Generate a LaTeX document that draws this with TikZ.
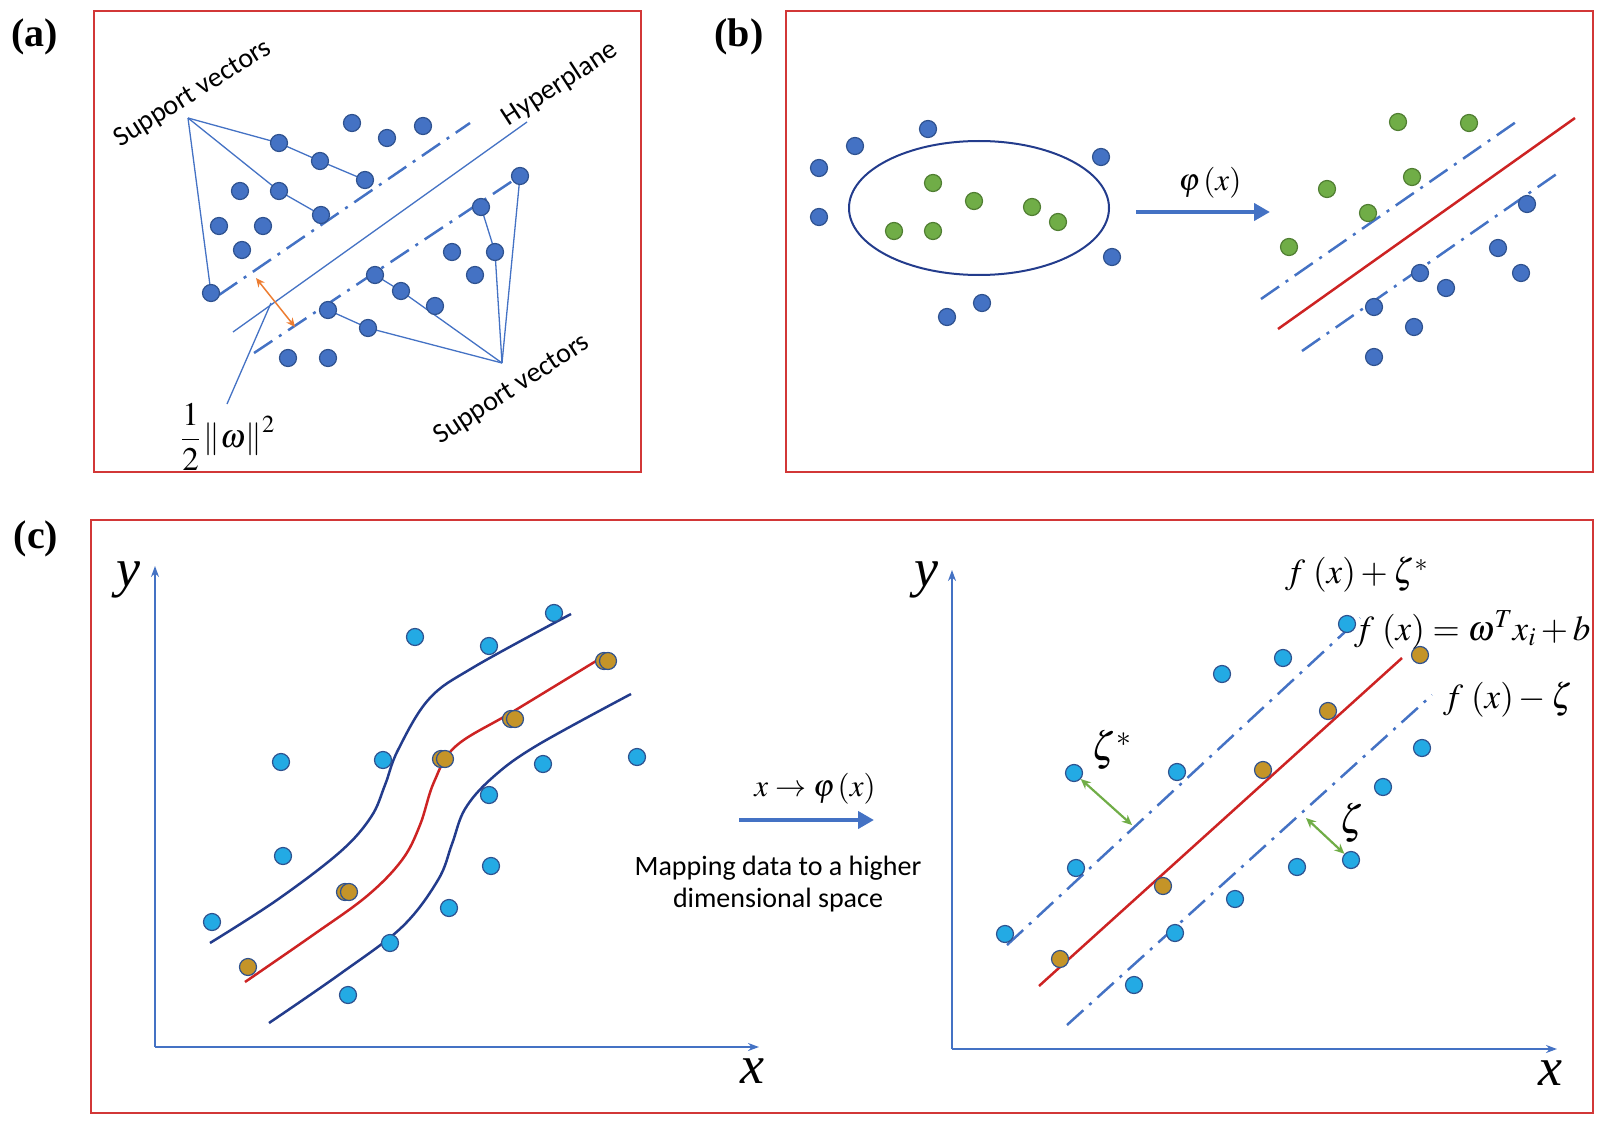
\documentclass[tikz,border=0pt]{standalone}
\usepackage{mathptmx}
\usepackage{fontspec}
\setmainfont{Liberation Serif}
\newfontfamily\calfont{Carlito}
\usetikzlibrary{arrows.meta,backgrounds}
\definecolor{boxred}{RGB}{210,55,55}
\definecolor{dotblue}{RGB}{68,114,196}
\definecolor{dotedge}{RGB}{47,82,143}
\definecolor{dotgreen}{RGB}{112,173,71}
\definecolor{greenedge}{RGB}{80,126,50}
\definecolor{dotcyan}{RGB}{35,170,228}
\definecolor{dotgold}{RGB}{196,148,40}
\definecolor{navy}{RGB}{35,60,140}
\definecolor{linered}{RGB}{205,35,35}
\definecolor{orangearr}{RGB}{237,125,49}
\definecolor{greenarr}{RGB}{112,173,71}
\definecolor{lineblue}{RGB}{68,114,196}
\newcommand{\bp}[1]{\left(\vphantom{f}#1\right)}
\tikzset{
  panel/.style={draw=boxred, line width=1.6pt},
  plabel/.style={font=\fontsize{40}{44}\selectfont\bfseries},
  dotbase/.style={circle, line width=1.2pt, minimum size=17pt, inner sep=0pt},
  bdot/.style={dotbase, draw=dotedge, fill=dotblue},
  gdot/.style={dotbase, draw=greenedge, fill=dotgreen},
  cdot/.style={dotbase, draw=dotedge, fill=dotcyan},
  odot/.style={dotbase, draw=dotedge, fill=dotgold},
  ddline/.style={draw=lineblue, line width=2.5pt, dash pattern=on 22pt off 8pt on 3pt off 8pt},
  thinline/.style={draw=lineblue, line width=1.3pt},
  redline/.style={draw=linered, line width=2.5pt},
  navycurve/.style={draw=navy, line width=2.5pt},
  axis/.style={draw=lineblue, line width=2pt, -{Stealth[length=11pt,width=8pt]}},
  bigarrow/.style={draw=lineblue, line width=4.5pt, -{Triangle[length=16pt,width=17pt]}},
  calib/.style={font=\calfont\fontsize{28}{32}\selectfont},
  mathlab/.style={font=\fontsize{35}{40}\selectfont, inner sep=0pt},
  axlab/.style={font=\fontsize{54}{58}\selectfont\itshape},
}
\begin{document}
\begin{tikzpicture}[x=1pt,y=-1pt]
\useasboundingbox (0,0) rectangle (1604,1126);
% ---------- panels ----------
\draw[panel] (94,11) rectangle (641,472);
\draw[panel] (786,11) rectangle (1593,472);
\draw[panel] (91,520) rectangle (1593,1113);
\node[plabel] (la) at (35,37) {(a)};
\node[plabel] (lb) at (739,37) {(b)};
\node[plabel] (lc) at (36,539) {(c)};

% ---------- (a) ----------
\node[bdot] (a1) at (352,123) {};
\node[bdot] (a2) at (387,138) {};
\node[bdot] (a3) at (423,126) {};
\node[bdot] (a4) at (279,143) {};
\node[bdot] (a5) at (320,161) {};
\node[bdot] (a6) at (365,180) {};
\node[bdot] (a7) at (240,191) {};
\node[bdot] (a8) at (279,191) {};
\node[bdot] (a9) at (321,215) {};
\node[bdot] (a10) at (219,226) {};
\node[bdot] (a11) at (263,226) {};
\node[bdot] (a12) at (242,250) {};
\node[bdot] (a13) at (211,293) {};
\node[bdot] (b1) at (520,176) {};
\node[bdot] (b2) at (481,207) {};
\node[bdot] (b3) at (495,252) {};
\node[bdot] (b4) at (452,252) {};
\node[bdot] (b5) at (475,275) {};
\node[bdot] (b6) at (375,275) {};
\node[bdot] (b7) at (401,291) {};
\node[bdot] (b8) at (435,306) {};
\node[bdot] (b9) at (328,310) {};
\node[bdot] (b10) at (368,328) {};
\node[bdot] (b11) at (288,358) {};
\node[bdot] (b12) at (328,358) {};
\coordinate (sva) at (188,118);
\coordinate (svb) at (502,363);
\coordinate (ua1) at (219,295);
\coordinate (ua2) at (470,123);
\coordinate (la1) at (254,353);
\coordinate (la2) at (520,176);
\coordinate (h1) at (233,332);
\coordinate (h2) at (527,122);
\coordinate (m1) at (256,278);
\coordinate (m2) at (295,327);
\coordinate (w1) at (271,303);
\begin{scope}[on background layer]
  \draw[thinline] (sva) -- (a4.center) -- (a5.center) -- (a6.center);
  \draw[thinline] (sva) -- (a8.center) -- (a9.center);
  \draw[thinline] (sva) -- (a13.center);
  \draw[thinline] (svb) -- (b1.center);
  \draw[thinline] (svb) -- (b3.center) -- (b2.center);
  \draw[thinline] (svb) -- (b7.center) -- (b6.center);
  \draw[thinline] (svb) -- (b10.center) -- (b9.center);
  \draw[ddline] (ua1) -- (ua2);
  \draw[ddline] (la1) -- (la2);
  \draw[thinline] (h1) -- (h2);
\end{scope}
\draw[draw=orangearr, line width=1.5pt, {Stealth[length=9pt,width=8pt]}-{Stealth[length=9pt,width=8pt]}] (m1) -- (m2);
\node[calib, rotate=32] (sv1) at (193,94) {Support vectors};
\node[calib, rotate=33] (hyp) at (560,84) {Hyperplane};
\node[calib, rotate=33] (sv2) at (512,390) {Support vectors};
\node[font=\fontsize{33}{37}\selectfont, inner sep=0pt] (wlab) at (228,437) {$\displaystyle\frac{1}{2}\left\|\omega\right\|^{2}$};
\coordinate (w0) at (227,404);
\draw[thinline] (w0) -- (w1);

% ---------- (b) ----------
\draw[draw=navy, line width=2pt] (979,208) ellipse [x radius=130, y radius=67];
\node[bdot] (c1) at (819,168) {};
\node[bdot] (c2) at (855,146) {};
\node[bdot] (c3) at (928,129) {};
\node[bdot] (c4) at (819,217) {};
\node[bdot] (c5) at (1101,157) {};
\node[bdot] (c6) at (1112,257) {};
\node[bdot] (c7) at (982,303) {};
\node[bdot] (c8) at (947,317) {};
\node[gdot] (g1) at (933,183) {};
\node[gdot] (g2) at (974,201) {};
\node[gdot] (g3) at (1032,207) {};
\node[gdot] (g4) at (1058,222) {};
\node[gdot] (g5) at (894,231) {};
\node[gdot] (g6) at (933,231) {};
\coordinate (ba1) at (1136,212);
\coordinate (ba2) at (1270,212);
\draw[bigarrow] (ba1) -- (ba2);
\node[font=\fontsize{31}{35}\selectfont] (phi) at (1210,183) {$\varphi\bp{x}$};
\coordinate (bu1) at (1261,299);
\coordinate (bu2) at (1516,122);
\coordinate (br1) at (1278,329);
\coordinate (br2) at (1575,118);
\coordinate (bl1) at (1302,351);
\coordinate (bl2) at (1558,173);
\begin{scope}[on background layer]
  \draw[ddline] (bu1) -- (bu2);
  \draw[redline] (br1) -- (br2);
  \draw[ddline] (bl1) -- (bl2);
\end{scope}
\node[gdot] (g7) at (1398,122) {};
\node[gdot] (g8) at (1469,123) {};
\node[gdot] (g9) at (1412,177) {};
\node[gdot] (g10) at (1327,189) {};
\node[gdot] (g11) at (1368,213) {};
\node[gdot] (g12) at (1289,247) {};
\node[bdot] (c9) at (1527,204) {};
\node[bdot] (c10) at (1498,248) {};
\node[bdot] (c11) at (1521,273) {};
\node[bdot] (c12) at (1420,273) {};
\node[bdot] (c13) at (1446,288) {};
\node[bdot] (c14) at (1374,307) {};
\node[bdot] (c15) at (1414,327) {};
\node[bdot] (c16) at (1374,357) {};

% ---------- (c) left ----------
\coordinate (o1) at (155,1047);
\coordinate (y1) at (155,566);
\coordinate (x1) at (759,1047);
\draw[axis] (o1) -- (y1);
\draw[axis] (o1) -- (x1);
\node[axlab] (ly1) at (128,580) {y};
\node[axlab] (lx1) at (752,1071) {x};
\begin{scope}[on background layer]
\draw[navycurve] plot[smooth, tension=0.6] coordinates {(210,943) (277,900) (340,852) (371,817) (385,785) (398,750) (429,699) (474,667) (571,614)};
\draw[redline] plot[smooth, tension=0.6] coordinates {(245,982) (313,935) (367,896) (402,860) (420,825) (434,782) (456,746) (514,711) (601,658)};
\draw[navycurve] plot[smooth, tension=0.6] coordinates {(269,1023) (340,974) (402,927) (438,880) (452,844) (465,809) (492,778) (536,746) (631,694)};
\end{scope}
\node[cdot] (d1) at (554,613) {};
\node[cdot] (d2) at (415,637) {};
\node[cdot] (d3) at (489,646) {};
\node[cdot] (d4) at (281,762) {};
\node[cdot] (d5) at (383,760) {};
\node[cdot] (d6) at (543,764) {};
\node[cdot] (d7) at (637,757) {};
\node[cdot] (d8) at (489,795) {};
\node[cdot] (d9) at (283,856) {};
\node[cdot] (d10) at (491,866) {};
\node[cdot] (d11) at (212,922) {};
\node[cdot] (d12) at (449,908) {};
\node[cdot] (d13) at (390,943) {};
\node[cdot] (d14) at (348,995) {};
\node[odot] (e1b) at (604,661) {};
\node[odot] (e1) at (608,661) {};
\node[odot] (e2b) at (511,719) {};
\node[odot] (e2) at (515,719) {};
\node[odot] (e3b) at (441,759) {};
\node[odot] (e3) at (445,759) {};
\node[odot] (e4b) at (345,892) {};
\node[odot] (e4) at (349,892) {};
\node[odot] (e5) at (248,967) {};

% ---------- middle arrow ----------
\coordinate (ma1) at (739,820);
\coordinate (ma2) at (874,820);
\draw[bigarrow] (ma1) -- (ma2);
\node[font=\fontsize{31}{35}\selectfont] (map) at (815,789) {$x\rightarrow\varphi\bp{x}$};
\node[calib, align=center] (maptxt) at (778,884) {Mapping data to a higher\\dimensional space};

% ---------- (c) right ----------
\coordinate (o2) at (952,1049);
\coordinate (y2) at (952,570);
\coordinate (x2) at (1557,1049);
\draw[axis] (o2) -- (y2);
\draw[axis] (o2) -- (x2);
\node[axlab] (ly2) at (926,580) {y};
\node[axlab] (lx2) at (1550,1073) {x};
\coordinate (ru1) at (1007,945);
\coordinate (ru2) at (1360,618);
\coordinate (rr1) at (1039,986);
\coordinate (rr2) at (1402,658);
\coordinate (rl1) at (1067,1025);
\coordinate (rl2) at (1432,695);
\begin{scope}[on background layer]
  \draw[ddline] (ru1) -- (ru2);
  \draw[redline] (rr1) -- (rr2);
  \draw[ddline] (rl1) -- (rl2);
\end{scope}
\node[cdot] (f1) at (1347,624) {};
\node[cdot] (f2) at (1283,658) {};
\node[cdot] (f3) at (1222,674) {};
\node[cdot] (f4) at (1074,773) {};
\node[cdot] (f5) at (1177,772) {};
\node[cdot] (f6) at (1422,748) {};
\node[cdot] (f7) at (1383,787) {};
\node[cdot] (f8) at (1351,860) {};
\node[cdot] (f9) at (1076,868) {};
\node[cdot] (f10) at (1297,867) {};
\node[cdot] (f11) at (1235,899) {};
\node[cdot] (f12) at (1005,934) {};
\node[cdot] (f13) at (1175,933) {};
\node[cdot] (f14) at (1134,985) {};
\node[odot] (h1n) at (1420,655) {};
\node[odot] (h2n) at (1328,711) {};
\node[odot] (h3n) at (1263,770) {};
\node[odot] (h4n) at (1163,886) {};
\node[odot] (h5n) at (1060,959) {};
\coordinate (z1b) at (1132,825);
\coordinate (z2a) at (1306,818);
\draw[draw=greenarr, line width=2.2pt, {Stealth[length=10pt,width=9pt]}-{Stealth[length=10pt,width=9pt]}] (f4) -- (z1b);
\draw[draw=greenarr, line width=2.2pt, {Stealth[length=10pt,width=9pt]}-{Stealth[length=10pt,width=9pt]}] (z2a) -- (f8);
\node[font=\fontsize{40}{44}\selectfont] (zs) at (1112,750) {$\zeta^{*}$};
\node[font=\fontsize{40}{44}\selectfont] (zz) at (1352,823) {$\zeta$};
\node[mathlab, anchor=west] (fp) at (1285,575) {$f\,\bp{x}+\zeta^{*}$};
\node[mathlab, anchor=west] (f0) at (1354,630) {$f\,\bp{x}=\omega^{T}x_{i}+b$};
\node[mathlab, anchor=west] (fm) at (1443,700) {$f\,\bp{x}-\zeta$};
\end{tikzpicture}
\end{document}
